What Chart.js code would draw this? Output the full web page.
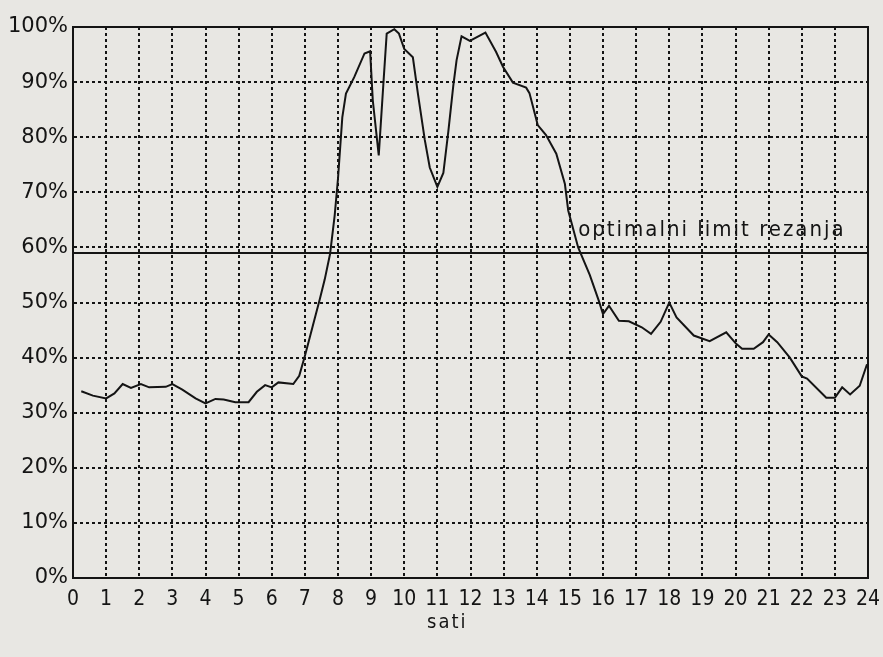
<!DOCTYPE html>
<html>
<head>
<meta charset="utf-8">
<script src="https://cdn.jsdelivr.net/npm/chart.js@4.4.1/dist/chart.umd.min.js"></script>
<style>
  html, body { margin: 0; padding: 0; background: #e8e7e3; }
  #wrap { width: 883px; height: 657px; }
</style>
</head>
<body>
<div id="wrap"><canvas id="chart" width="883" height="657"></canvas></div>
<script>
// --- DATA ---
// hour of day
const hours = [
  0.25, 0.6, 1.0, 1.25, 1.5, 1.75, 2.05, 2.3, 2.8, 3.0,
  3.3, 3.7, 4.0, 4.3, 4.55, 4.9, 5.3, 5.55, 5.8, 6.0,
  6.2, 6.65, 6.83, 7.0, 7.24, 7.45, 7.6, 7.76, 7.9, 8.0,
  8.13, 8.24, 8.49, 8.8, 8.97, 9.05, 9.23, 9.37, 9.47, 9.7,
  9.84, 10.0, 10.26, 10.41, 10.62, 10.77, 11.0, 11.18, 11.33, 11.48,
  11.58, 11.73, 11.98, 12.45, 12.77, 12.98, 13.28, 13.68, 13.78, 14.03,
  14.28, 14.59, 14.85, 14.95, 15.25, 15.6, 15.88, 16.0, 16.18, 16.48,
  16.78, 17.17, 17.45, 17.74, 18.0, 18.22, 18.74, 19.22, 19.72, 20.02,
  20.2, 20.55, 20.83, 21.0, 21.26, 21.64, 22.0, 22.16, 22.74, 23.0,
  23.22, 23.46, 23.75, 23.97
];
// load in %
const load = [
  33.9, 33.1, 32.6, 33.5, 35.2, 34.5, 35.2, 34.6, 34.7, 35.2,
  34.2, 32.6, 31.7, 32.5, 32.4, 31.9, 31.9, 33.8, 35.0, 34.6,
  35.5, 35.2, 36.7, 40.3, 45.8, 50.6, 54.2, 58.8, 65.8, 72.5,
  83.6, 87.9, 90.9, 95.2, 95.6, 86.7, 76.7, 89.7, 98.8, 99.6,
  98.8, 96.0, 94.5, 88.0, 79.5, 74.5, 71.0, 73.5, 81.0, 89.3,
  94.0, 98.3, 97.5, 99.0, 95.5, 92.8, 89.9, 89.0, 88.0, 82.2,
  80.4, 77.0, 71.5, 66.7, 60.0, 55.0, 50.2, 47.9, 49.4, 46.7,
  46.6, 45.5, 44.3, 46.5, 50.0, 47.3, 44.0, 43.0, 44.6, 42.5,
  41.6, 41.6, 42.8, 44.2, 42.8, 40.0, 36.6, 36.2, 32.7, 32.7,
  34.6, 33.3, 34.9, 38.8
];
// cutting limit line
const limitHours = [0, 24];
const limitLoad = [59, 59];

const limitLabel = "optimalni limit rezanja";
const xTitle = "sati";

const ink = "#141414";

// --- PLUGIN: paper, frame and free texts ---
const paperPlugin = {
  id: "paper",
  beforeDraw(chart) {
    const ctx = chart.ctx;
    ctx.save();
    ctx.fillStyle = "#e8e7e3";
    ctx.fillRect(0, 0, chart.width, chart.height);
    ctx.restore();
  },
  afterDraw(chart) {
    const { ctx, chartArea, scales } = chart;
    ctx.save();
    ctx.strokeStyle = ink;
    ctx.lineWidth = 2;
    ctx.strokeRect(chartArea.left, chartArea.top,
      chartArea.right - chartArea.left, chartArea.bottom - chartArea.top);

    ctx.fillStyle = ink;
    ctx.textBaseline = "alphabetic";
    ctx.font = '22px "DejaVu Sans Condensed", "DejaVu Sans", sans-serif';
    ctx.letterSpacing = "2px";
    ctx.fillText(limitLabel, scales.x.getPixelForValue(15.25), scales.y.getPixelForValue(62));

    ctx.textAlign = "center";
    ctx.font = '20px "DejaVu Sans Condensed", "DejaVu Sans", sans-serif';
    ctx.letterSpacing = "2px";
    ctx.fillText(xTitle, scales.x.getPixelForValue(11.3), chartArea.bottom + 50);
    ctx.restore();
  }
};

// --- CHART ---
const ctx = document.getElementById("chart").getContext("2d");
new Chart(ctx, {
  type: "line",
  data: {
    datasets: [
      {
        label: "load",
        data: hours.map((h, i) => ({ x: h, y: load[i] })),
        borderColor: ink,
        borderWidth: 2,
        pointRadius: 0,
        tension: 0,
        fill: false
      },
      {
        label: "limit",
        data: limitHours.map((h, i) => ({ x: h, y: limitLoad[i] })),
        borderColor: ink,
        borderWidth: 2,
        pointRadius: 0,
        fill: false
      }
    ]
  },
  options: {
    responsive: false,
    devicePixelRatio: 1,
    animation: false,
    layout: { padding: { top: 27, right: 15, bottom: 0, left: 0 } },
    plugins: {
      legend: { display: false },
      tooltip: { enabled: false }
    },
    scales: {
      x: {
        type: "linear",
        min: 0,
        max: 24,
        ticks: {
          stepSize: 1,
          autoSkip: false,
          maxRotation: 0,
          padding: 9,
          color: ink,
          font: { family: '"DejaVu Sans Condensed", "DejaVu Sans", sans-serif', size: 21 }
        },
        grid: { color: ink, lineWidth: 2, drawTicks: false },
        border: { display: true, color: ink, width: 2, dash: [3, 3] },
        afterFit(scale) {
          scale.height = 79;
          scale.paddingLeft = 0;
          scale.paddingRight = 0;
        }
      },
      y: {
        min: 0,
        max: 100,
        ticks: {
          stepSize: 10,
          padding: 5,
          color: ink,
          callback: (v) => v + "%",
          font: { family: '"DejaVu Sans", sans-serif', size: 21 }
        },
        grid: { color: ink, lineWidth: 2, drawTicks: false },
        border: { display: true, color: ink, width: 2, dash: [3, 3] },
        afterFit(scale) { scale.width = 73; }
      }
    }
  },
  plugins: [paperPlugin]
});
</script>
</body>
</html>
